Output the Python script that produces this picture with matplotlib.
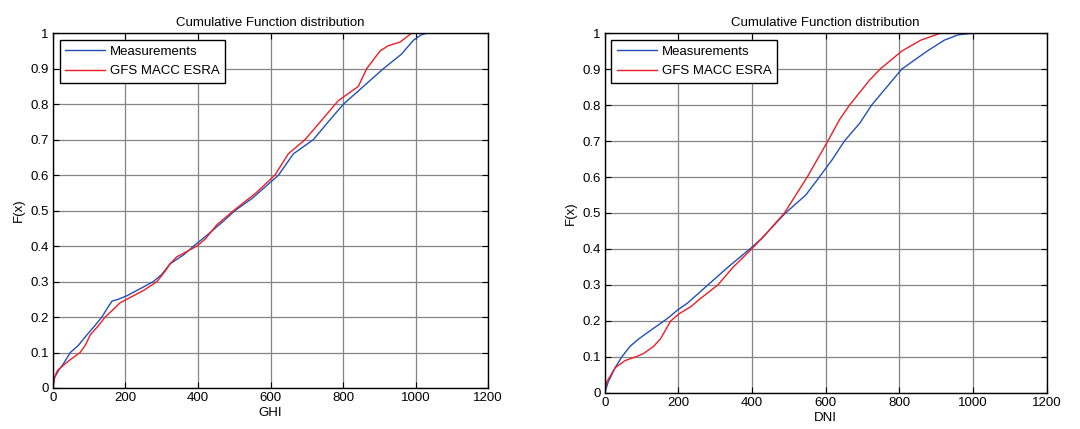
import matplotlib
matplotlib.use("Agg")
import matplotlib.pyplot as plt

plt.rcParams['font.family'] = ['Liberation Sans', 'DejaVu Sans']

# GHI panel (x value, cumulative fraction)
ghi_meas_x = [0, 5, 16, 30, 48, 70, 94, 115, 135, 150, 163, 180, 204, 241, 277, 300, 323, 360, 388, 424, 470,
              502, 550, 622, 663, 718, 759, 801, 856, 911, 960, 994, 1015, 1030]
ghi_meas_f = [0, 0.03, 0.05, 0.07, 0.10, 0.12, 0.15, 0.175, 0.20, 0.225, 0.245, 0.25, 0.26, 0.28, 0.30, 0.32, 0.35,
              0.375, 0.40, 0.43, 0.47, 0.50, 0.535, 0.60, 0.66, 0.70, 0.75, 0.80, 0.85, 0.90, 0.94, 0.98, 0.995, 1.0]
ghi_model_x = [0, 4, 13, 30, 48, 75, 89, 103, 125, 144, 165, 185, 222, 250, 287, 310, 323, 342, 397, 420, 452,
               498, 560, 612, 649, 695, 737, 787, 842, 865, 902, 925, 957, 989]
ghi_model_f = [0, 0.03, 0.05, 0.065, 0.08, 0.10, 0.12, 0.15, 0.175, 0.20, 0.22, 0.24, 0.26, 0.275, 0.30, 0.33, 0.35,
               0.37, 0.40, 0.42, 0.46, 0.50, 0.55, 0.60, 0.66, 0.70, 0.75, 0.81, 0.85, 0.90, 0.95, 0.965, 0.975, 1.0]

# DNI panel
dni_meas_x = [0, 9, 28, 46, 69, 92, 119, 147, 174, 197, 225, 280, 335, 394, 427, 463, 491, 546, 583, 619, 651,
              693, 725, 766, 807, 876, 922, 960, 1005]
dni_meas_f = [0, 0.03, 0.07, 0.10, 0.13, 0.15, 0.17, 0.19, 0.21, 0.23, 0.25, 0.30, 0.35, 0.40, 0.43, 0.47, 0.50,
              0.55, 0.60, 0.65, 0.70, 0.75, 0.80, 0.85, 0.90, 0.95, 0.98, 0.995, 1.0]
dni_model_x = [0, 5, 28, 55, 83, 106, 133, 151, 179, 202, 234, 257, 307, 349, 399, 445, 488, 550, 606, 638, 665,
               720, 748, 807, 858, 913]
dni_model_f = [0, 0.03, 0.07, 0.09, 0.10, 0.11, 0.13, 0.15, 0.20, 0.22, 0.24, 0.26, 0.30, 0.35, 0.40, 0.45, 0.50,
               0.60, 0.70, 0.76, 0.80, 0.87, 0.90, 0.95, 0.98, 1.0]

panels = [
    ("GHI", ghi_meas_x, ghi_meas_f, ghi_model_x, ghi_model_f, [0.049, 0.0956, 0.403, 0.827]),
    ("DNI", dni_meas_x, dni_meas_f, dni_model_x, dni_model_f, [0.560, 0.084, 0.409, 0.839]),
]

fig = plt.figure(figsize=(10.8, 4.29), dpi=100)

for xlabel, mx, mf, gx, gf, rect in panels:
    ax = fig.add_axes(rect)
    ax.plot(mx, mf, color='#2250b8', lw=1.0, label='Measurements')
    ax.plot(gx, gf, color='#ee1d23', lw=1.0, label='GFS MACC ESRA')
    ax.set_xlim(0, 1200)
    ax.set_ylim(0, 1)
    ax.set_xticks(range(0, 1201, 200))
    ax.set_yticks([i / 10 for i in range(11)])
    ax.set_yticklabels(['0', '0.1', '0.2', '0.3', '0.4', '0.5', '0.6', '0.7', '0.8', '0.9', '1'])
    ax.grid(True, color='#858585', lw=0.9)
    ax.set_axisbelow(True)
    ax.tick_params(direction='in', top=True, right=True, labelsize=9.5, length=4, pad=3)
    for s in ax.spines.values():
        s.set_linewidth(1.0)
    ax.set_title('Cumulative Function distribution', fontsize=9.5, pad=5)
    ax.set_xlabel(xlabel, fontsize=9.5, labelpad=2)
    ax.set_ylabel('F(x)', fontsize=9.5, labelpad=4)
    leg = ax.legend(loc='upper left', fontsize=9.5, fancybox=False, framealpha=1,
                    edgecolor='black', borderaxespad=0.5, handlelength=3.0, borderpad=0.45,
                    labelspacing=0.55, handletextpad=0.35)
    leg.get_frame().set_linewidth(1.0)

fig.savefig('out.png', dpi=100)
